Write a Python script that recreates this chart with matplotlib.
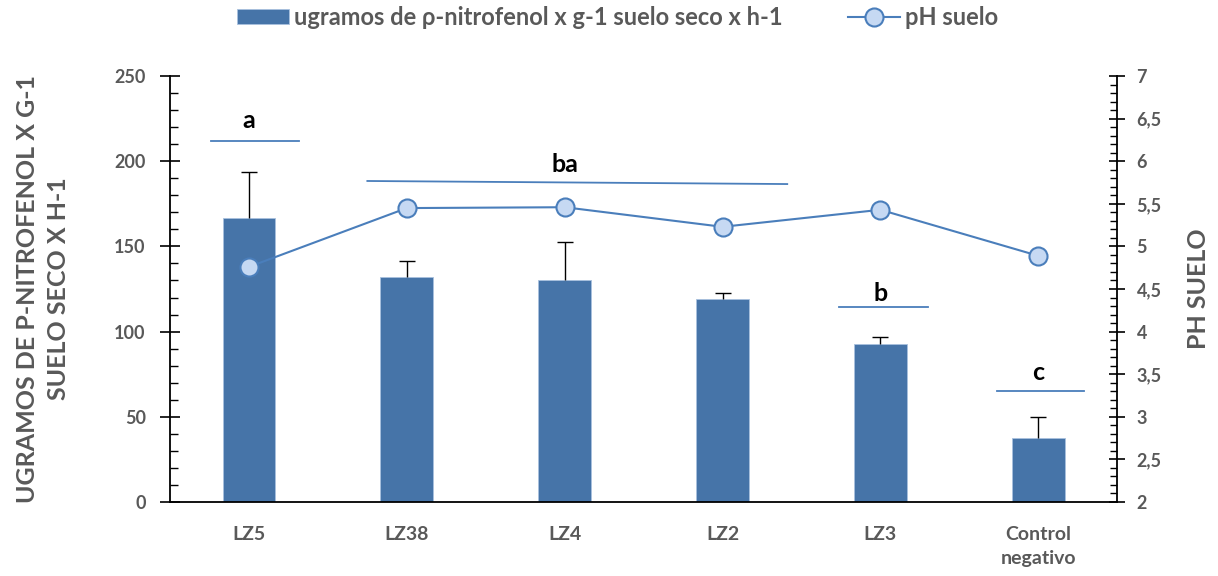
import numpy as np
import matplotlib.pyplot as plt
from matplotlib.ticker import MultipleLocator, FuncFormatter

categories = ['LZ5', 'LZ38', 'LZ4', 'LZ2', 'LZ3', 'Control\nnegativo']
activity = [166.7, 132.2, 130.3, 119.1, 92.5, 37.7]
activity_err = [27.0, 9.4, 22.3, 3.5, 4.5, 12.3]
ph = [4.76, 5.45, 5.46, 5.23, 5.43, 4.89]

# significance groups: letter, x start, x end, line y, letter y (left-axis units)
groups = ['a', 'ba', 'b', 'c']
group_x0 = [-0.24, 0.75, 3.74, 4.74]
group_x1 = [0.32, 3.41, 4.30, 5.29]
group_line_y = [(211.9, 211.9), (188.4, 186.6), (114.4, 114.4), (65.1, 65.1)]
group_text_x = [0.0, 2.0, 4.0, 5.0]
group_text_y = [219.5, 193.7, 118.0, 71.6]

gray = '#595959'
bar_color = '#4674a8'
line_color = '#4a7ebb'
plt.rcParams['font.family'] = ['Lato', 'DejaVu Sans']

fig = plt.figure(figsize=(12.18, 5.76), dpi=100)
ax = fig.add_axes([0.1396, 0.1285, 0.7776, 0.7395])
x = np.arange(len(categories))

bars = ax.bar(x, activity, width=0.335, color=bar_color, edgecolor='#a9c1de',
              linewidth=0.6, zorder=2, label='ugramos de ρ-nitrofenol x g-1 suelo seco x h-1')
# upper whisker only, with a cap at the top
ax.errorbar(x, activity, yerr=[np.zeros(len(x)), activity_err], fmt='none',
            ecolor='black', elinewidth=1, capsize=0, zorder=3)
ax.plot(x, np.array(activity) + np.array(activity_err), ls='none', marker='_',
        markersize=11, markeredgewidth=1, color='black', zorder=3)

for g, x0, x1, ly, tx, ty in zip(groups, group_x0, group_x1, group_line_y,
                                 group_text_x, group_text_y):
    ax.plot([x0, x1], ly, color=line_color, lw=1.3, zorder=1)
    ax.text(tx, ty, g, ha='center', va='baseline', fontsize=18, fontweight='bold',
            color='black')

ax.set_xlim(-0.5, 5.5)
ax.set_ylim(0, 250)
ax.yaxis.set_major_locator(MultipleLocator(50))
ax.yaxis.set_minor_locator(MultipleLocator(10))
ax.tick_params(axis='y', which='major', direction='inout', length=15, width=1.2,
               labelsize=13, labelcolor=gray, pad=10)
ax.tick_params(axis='y', which='minor', direction='in', length=6, width=1)
ax.set_xticks(x)
ax.set_xticklabels(categories, fontweight='bold', linespacing=1.5)
ax.tick_params(axis='x', length=0, labelsize=14, labelcolor=gray, pad=17)
for lbl in ax.get_yticklabels():
    lbl.set_fontweight('bold')
for side in ['top', 'right']:
    ax.spines[side].set_visible(False)
ax.spines['left'].set_linewidth(1.3)
ax.spines['bottom'].set_linewidth(1.3)
ax.set_ylabel('UGRAMOS DE P-NITROFENOL X G-1\nSUELO SECO X H-1', fontsize=18,
              fontweight='bold', color=gray, labelpad=32, linespacing=1.4)

ax2 = ax.twinx()
ax2.plot(x, ph, color=line_color, lw=1.5, marker='o', markersize=13,
         markerfacecolor='#c6d9f3', markeredgecolor=line_color, markeredgewidth=1.5,
         label='pH suelo', zorder=4)
ax2.set_ylim(2, 7)
ax2.yaxis.set_major_locator(MultipleLocator(0.5))
ax2.yaxis.set_minor_locator(MultipleLocator(0.1))
ax2.yaxis.set_major_formatter(FuncFormatter(lambda v, p: f'{v:g}'.replace('.', ',')))
ax2.tick_params(axis='y', which='major', direction='inout', length=12, width=1.2,
                labelsize=13, labelcolor=gray, pad=8)
ax2.tick_params(axis='y', which='minor', direction='in', length=5, width=1)
for lbl in ax2.get_yticklabels():
    lbl.set_fontweight('bold')
for side in ['top', 'left', 'bottom']:
    ax2.spines[side].set_visible(False)
ax2.spines['right'].set_linewidth(1.3)
ax2.set_ylabel('PH SUELO', fontsize=18, fontweight='bold', color=gray,
               rotation=90, labelpad=18)

h2, l2 = ax2.get_legend_handles_labels()
fig.legend([bars, h2[0]], [bars.get_label(), l2[0]], loc='center',
           ncol=2, bbox_to_anchor=(0.507, 0.97), frameon=False,
           handlelength=2.2, handleheight=0.6, columnspacing=2.8,
           prop={'weight': 'bold', 'size': 17}, labelcolor=gray,
           handletextpad=0.2)

fig.savefig('out.png', dpi=100)
